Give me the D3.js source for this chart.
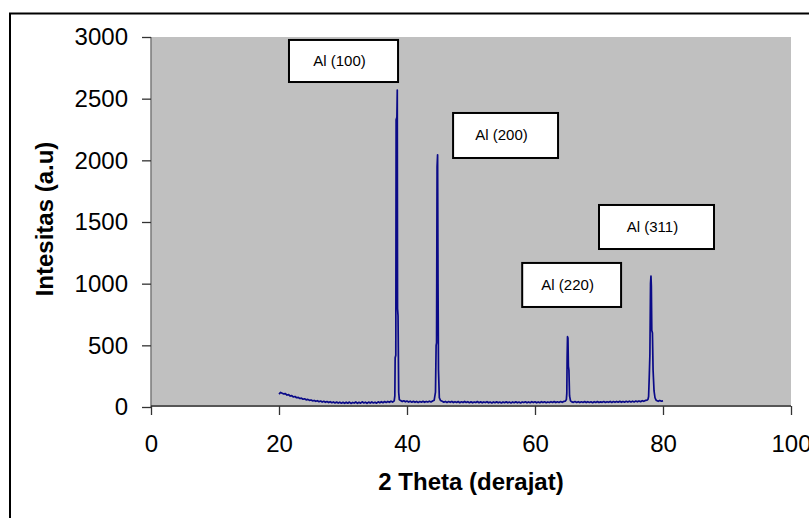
<!DOCTYPE html>
<html>
<head>
<meta charset="utf-8">
<script src="https://cdn.jsdelivr.net/npm/d3@7"></script>
<style>
  html, body { margin: 0; padding: 0; background: #ffffff; }
  svg { display: block; font-family: "Liberation Sans", Arial, sans-serif; }
</style>
</head>
<body>
<svg id="chart" width="809" height="518"></svg>
<script>
// ---------- DATA ----------
const xTicks = [0, 20, 40, 60, 80, 100];
const yTicks = [0, 500, 1000, 1500, 2000, 2500, 3000];
const xTitle = "2 Theta (derajat)";
const yTitle = "Intesitas (a.u)";

// XRD pattern [2θ, intensity]
const baselineA = [
  [20.0,105],[20.25,118],[20.5,112],[20.75,106],[21.0,109],[21.25,97],[21.5,100],[21.75,89],
  [22.0,92],[22.25,81],[22.5,85],[22.75,75],[23.0,78],[23.25,69],[23.5,72],[23.75,63],
  [24.0,67],[24.25,58],[24.5,62],[24.75,54],[25.0,57],[25.25,50],[25.5,53],[25.75,46],
  [26.0,51],[26.25,43],[26.5,48],[26.75,40],[27.0,46],[27.25,38],[27.5,44],[27.75,36],
  [28.0,43],[28.25,35],[28.5,41],[28.75,33],[29.0,40],[29.25,32],[29.5,39],[29.75,31]
];
const baselineB = [
  [30.0,38],[30.25,30],[30.5,39],[30.75,31],[31.0,40],[31.25,29],[31.5,37],[31.75,32],
  [32.0,41],[32.25,30],[32.5,38],[32.75,31],[33.0,42],[33.25,33],[33.5,39],[33.75,30],
  [34.0,40],[34.25,32],[34.5,41],[34.75,33],[35.0,39],[35.25,31],[35.5,42],[35.75,34],
  [36.0,43],[36.25,35],[36.5,44],[36.75,37],[37.0,45],[37.25,38],[37.5,47],[37.75,40]
];
const peak100 = [
  [38.0,50],[38.1,90],[38.15,400],[38.25,420],[38.3,2330],[38.42,2350],[38.48,2570],
  [38.52,800],[38.6,740],[38.7,120],[38.8,60],[39.0,52]
];
const baselineC = [
  [39.25,44],[39.5,50],[39.75,42],[40.0,48],[40.25,40],[40.5,47],[40.75,39],[41.0,46],
  [41.25,38],[41.5,45],[41.75,37],[42.0,44],[42.25,39],[42.5,46],[42.75,38],[43.0,45],
  [43.25,40],[43.5,47],[43.75,41],[44.0,49],[44.25,55]
];
const peak200 = [
  [44.45,120],[44.55,500],[44.62,520],[44.7,1950],[44.78,2045],[44.85,1000],[44.92,300],
  [45.05,75],[45.25,52]
];
const baselineD = [
  [45.5,46],[45.75,39],[46.0,45],[46.25,37],[46.5,44],[46.75,38],[47.0,45],[47.25,36],
  [47.5,43],[47.75,37],[48.0,44],[48.25,35],[48.5,42],[48.75,36],[49.0,45],[49.25,37],
  [49.5,43],[49.75,35],[50.0,42],[50.25,34],[50.5,41],[50.75,36],[51.0,44],[51.25,35],
  [51.5,42],[51.75,34],[52.0,41],[52.25,36],[52.5,43],[52.75,34],[53.0,40],[53.25,33],
  [53.5,41],[53.75,35],[54.0,42],[54.25,34],[54.5,40],[54.75,33],[55.0,41],[55.25,35],
  [55.5,42],[55.75,34],[56.0,40],[56.25,33],[56.5,41],[56.75,35],[57.0,42],[57.25,34],
  [57.5,40],[57.75,33],[58.0,41],[58.25,36],[58.5,42],[58.75,34],[59.0,41],[59.25,35],
  [59.5,43],[59.75,36],[60.0,42],[60.25,34],[60.5,41],[60.75,35],[61.0,43],[61.25,36],
  [61.5,42],[61.75,35],[62.0,41],[62.25,36],[62.5,43],[62.75,37],[63.0,44],[63.25,36],
  [63.5,42],[63.75,37],[64.0,44],[64.25,38],[64.5,45],[64.75,48]
];
const peak220 = [
  [64.9,60],[64.97,110],[65.02,400],[65.08,570],[65.15,560],[65.22,330],[65.3,300],
  [65.4,90],[65.55,50]
];
const baselineE = [
  [65.75,42],[66.0,38],[66.25,44],[66.5,37],[66.75,43],[67.0,36],[67.25,42],[67.5,37],
  [67.75,44],[68.0,36],[68.25,43],[68.5,37],[68.75,42],[69.0,35],[69.25,43],[69.5,37],
  [69.75,44],[70.0,36],[70.25,42],[70.5,38],[70.75,44],[71.0,37],[71.25,43],[71.5,38],
  [71.75,45],[72.0,37],[72.25,44],[72.5,38],[72.75,45],[73.0,39],[73.25,46],[73.5,38],
  [73.75,45],[74.0,39],[74.25,46],[74.5,40],[74.75,47],[75.0,40],[75.25,47],[75.5,41],
  [75.75,48],[76.0,42],[76.25,49],[76.5,43],[76.75,51],[77.0,46],[77.25,53],[77.5,55]
];
const peak311 = [
  [77.65,62],[77.75,85],[77.85,240],[77.95,420],[78.05,1000],[78.12,1062],[78.18,980],
  [78.25,620],[78.35,600],[78.45,300],[78.6,130],[78.75,75],[78.9,58]
];
const baselineF = [
  [79.0,52],[79.25,46],[79.5,53],[79.75,47],[80.0,50]
];

// Peak annotations: label and the box corners in data units (2θ, intensity)
const annLabels = ["Al (100)", "Al (200)", "Al (220)", "Al (311)"];
const annX      = [21.56, 47.2, 58.0, 70.0];
const annY      = [2976, 2384, 1168, 1638];
const annX2     = [38.6, 63.6, 73.45, 87.97];
const annY2     = [2635, 2019, 811, 1281];

// ---------- LAYOUT ----------
const W = 809, H = 518;
const plot = { left: 151, right: 791, top: 37, bottom: 407 };

const svg = d3.select("#chart");

// outer chart border
svg.append("rect")
  .attr("x", 10).attr("y", 13.5)
  .attr("width", 830).attr("height", 540)
  .attr("fill", "#ffffff")
  .attr("stroke", "#000000").attr("stroke-width", 2);

const x = d3.scaleLinear().domain([0, 100]).range([plot.left, plot.right]);
const y = d3.scaleLinear().domain([0, 3000]).range([plot.bottom, plot.top]);

// plot area
svg.append("rect")
  .attr("x", plot.left).attr("y", plot.top)
  .attr("width", plot.right - plot.left).attr("height", plot.bottom - plot.top)
  .attr("fill", "#c0c0c0");

// y axis
const yAxis = d3.axisLeft(y).tickValues(yTicks).tickSize(9).tickPadding(14)
  .tickFormat(d3.format("d"));
const gy = svg.append("g").attr("transform", `translate(${plot.left},0)`).call(yAxis);
gy.select(".domain").attr("stroke", "#7a7a7a").attr("stroke-width", 1.5)
  .attr("d", `M0,${plot.top}V${plot.bottom}`);
gy.selectAll(".tick line").attr("stroke", "#333").attr("stroke-width", 1.3);
gy.selectAll(".tick text").attr("font-size", 24).attr("fill", "#000")
  .attr("font-family", "Liberation Sans, Arial, sans-serif");

// x axis
const xAxis = d3.axisBottom(x).tickValues(xTicks).tickSize(9).tickPadding(20)
  .tickFormat(d3.format("d"));
const gx = svg.append("g").attr("transform", `translate(0,${plot.bottom - 1})`).call(xAxis);
gx.select(".domain").attr("stroke", "#333").attr("stroke-width", 1.5)
  .attr("d", `M${plot.left},0H${plot.right}`);
gx.selectAll(".tick line").attr("stroke", "#333").attr("stroke-width", 1.3);
gx.selectAll(".tick text").attr("font-size", 24).attr("fill", "#000")
  .attr("font-family", "Liberation Sans, Arial, sans-serif");

// axis titles
svg.append("text")
  .attr("x", (plot.left + plot.right) / 2).attr("y", 490)
  .attr("text-anchor", "middle")
  .attr("font-size", 24).attr("font-weight", "bold")
  .text(xTitle);

svg.append("text")
  .attr("transform", `translate(53,219) rotate(-90)`)
  .attr("text-anchor", "middle")
  .attr("font-size", 24).attr("font-weight", "bold")
  .text(yTitle);

// spectrum
const pattern = [].concat(baselineA, baselineB, peak100, baselineC, peak200,
                          baselineD, peak220, baselineE, peak311, baselineF);
const line = d3.line().x(d => x(d[0])).y(d => y(d[1]));
svg.append("path")
  .datum(pattern)
  .attr("d", line)
  .attr("fill", "none")
  .attr("stroke", "#0a0a88")
  .attr("stroke-width", 1.7)
  .attr("stroke-linejoin", "round");

// annotation boxes
const ann = svg.append("g");
annLabels.forEach((lab, i) => {
  const x0 = x(annX[i]), x1 = x(annX2[i]);
  const y0 = y(annY[i]), y1 = y(annY2[i]);
  ann.append("rect")
    .attr("x", x0).attr("y", y0)
    .attr("width", x1 - x0).attr("height", y1 - y0)
    .attr("fill", "#ffffff").attr("stroke", "#000").attr("stroke-width", 2);
  ann.append("text")
    .attr("x", (x0 + x1) / 2 - 4).attr("y", (y0 + y1) / 2 + 5)
    .attr("text-anchor", "middle")
    .attr("font-size", 15)
    .text(lab);
});
</script>
</body>
</html>
